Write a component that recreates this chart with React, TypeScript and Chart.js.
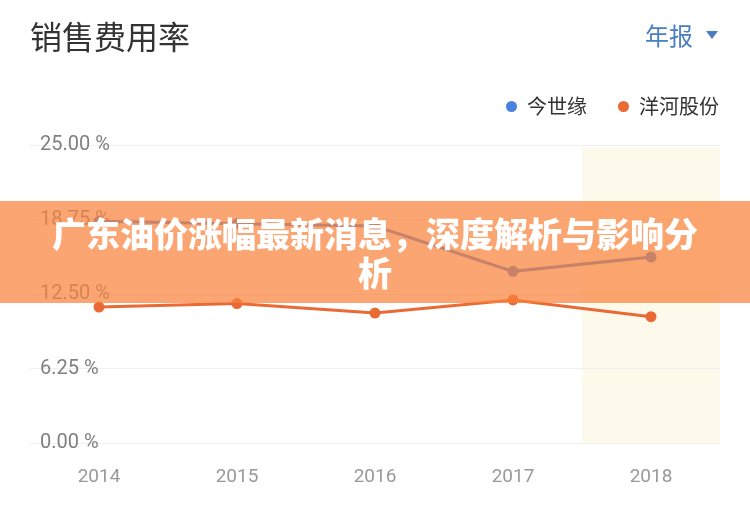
import Chart from 'chart.js/auto';
import { useEffect, useRef } from 'react';

const years = ['2014', '2015', '2016', '2017', '2018'];
const jinShiYuan = [18.6, 18.4, 18.2, 14.4, 15.6];
const yangHe = [11.4, 11.7, 10.9, 12.0, 10.6];
const seriesNames = ['今世缘', '洋河股份'];
const seriesColors = ['#4a80e0', '#ea6a35'];
const yTicks = [0, 6.25, 12.5, 18.75, 25];
const highlightYear = '2018';

const CJK = '"Noto Sans CJK SC", "Noto Sans", sans-serif';
const NUM = 'Roboto, "Noto Sans CJK SC", sans-serif';

// light band behind the selected year, drawn under the grid
const bandPlugin = {
  id: 'yearBand',
  beforeDraw(chart: Chart) {
    const { ctx, chartArea, scales } = chart;
    const idx = years.indexOf(highlightYear);
    if (idx < 0) return;
    const x = scales.x.getPixelForValue(idx);
    const half = chartArea.width / years.length / 2;
    ctx.save();
    ctx.fillStyle = '#fefaeb';
    ctx.fillRect(x - half, chartArea.top + 3, half * 2, chartArea.bottom - chartArea.top - 3);
    ctx.restore();
  },
};

const LineChart = () => {
  const chartRef = useRef<HTMLCanvasElement | null>(null);

  useEffect(() => {
    if (!chartRef.current) return;
    const ctx = chartRef.current.getContext('2d');
    if (!ctx) return;

    const chartInstance = new Chart(ctx, {
      type: 'line',
      data: {
        labels: years,
        datasets: [jinShiYuan, yangHe].map((values, i) => ({
          label: seriesNames[i],
          data: values,
          borderColor: seriesColors[i],
          backgroundColor: seriesColors[i],
          borderWidth: 3,
          pointRadius: 5.5,
          pointBorderWidth: 0,
          tension: 0,
        })),
      },
      options: {
        animation: false,
        responsive: true,
        maintainAspectRatio: false,
        layout: { padding: { top: 145, left: 10, right: 30, bottom: 18 } },
        plugins: {
          legend: { display: false },
          tooltip: { enabled: false },
        },
        scales: {
          x: {
            offset: true,
            grid: { display: false, drawTicks: false },
            border: { display: false },
            afterFit: (scale) => {
              scale.height = 46;
            },
            ticks: {
              color: '#999',
              padding: 23,
              font: { family: NUM, size: 19 },
            },
          },
          y: {
            min: 0,
            max: 25,
            afterBuildTicks: (scale) => {
              scale.ticks = yTicks.map((value) => ({ value }));
            },
            grid: { color: '#f0f0f0', lineWidth: 1, drawTicks: false },
            border: { display: false },
            ticks: {
              mirror: true,
              padding: 10,
              color: '#808080',
              font: { family: NUM, size: 20 },
              callback: (v) => `${Number(v).toFixed(2)} %`,
            },
          },
        },
      },
      plugins: [bandPlugin],
    });

    return () => {
      chartInstance.destroy();
    };
  }, []);

  return (
    <div style={{ position: 'absolute', left: 0, top: 0, width: 750, height: 507 }}>
      <canvas ref={chartRef}></canvas>
    </div>
  );
};

const App = () => {
  useEffect(() => {
    document.body.style.margin = '0';
  }, []);

  return (
    <div style={{ position: 'relative', width: 750, height: 507, background: '#fff', overflow: 'hidden' }}>
      <LineChart />
      <div style={{ position: 'absolute', left: 30, top: 13, fontFamily: CJK, fontSize: 32, lineHeight: '44px', color: '#333' }}>
        销售费用率
      </div>
      <div style={{ position: 'absolute', right: 32, top: 18, display: 'flex', alignItems: 'center', fontFamily: CJK, fontSize: 24, lineHeight: '34px', color: '#4a7ec4' }}>
        年报
        <span style={{ marginLeft: 13, width: 0, height: 0, borderLeft: '6px solid transparent', borderRight: '6px solid transparent', borderTop: '8px solid #4a7ec4' }} />
      </div>
      <div style={{ position: 'absolute', right: 31, top: 92, display: 'flex', fontFamily: CJK, fontSize: 20, lineHeight: '28px', color: '#333' }}>
        {seriesNames.map((name, i) => (
          <div key={name} style={{ display: 'flex', alignItems: 'center', marginLeft: i ? 31 : 0 }}>
            <span style={{ width: 11, height: 11, borderRadius: '50%', background: seriesColors[i], marginRight: 10 }} />
            {name}
          </div>
        ))}
      </div>
      <div
        style={{
          position: 'absolute',
          left: 0,
          top: 201,
          width: 750,
          height: 102,
          background: 'rgba(250,130,60,0.72)',
          display: 'flex',
          alignItems: 'center',
          justifyContent: 'center',
          boxSizing: 'border-box',
          padding: '0 46px',
          textAlign: 'center',
          fontFamily: CJK,
          fontWeight: 900,
          fontSize: 34,
          lineHeight: '39px',
          color: '#fff',
        }}
      >
        广东油价涨幅最新消息，深度解析与影响分析
      </div>
    </div>
  );
};

export default App;
